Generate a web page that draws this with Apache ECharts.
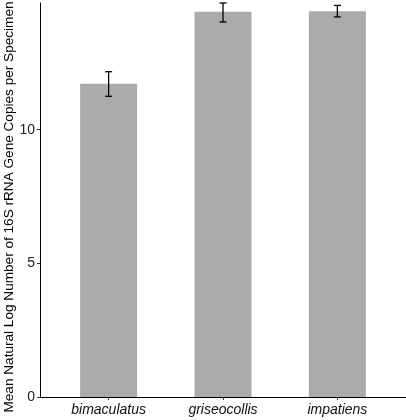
<!DOCTYPE html>
<html><head><meta charset="utf-8">
<script src="https://cdn.jsdelivr.net/npm/echarts@6/dist/echarts.min.js"></script>
<style>html,body{margin:0;padding:0;background:#fff}#c{width:406px;height:420px}</style>
</head><body><div id="c"></div>
<script>
var categories = ['bimaculatus', 'griseocollis', 'impatiens'];
var means = [11.72, 14.41, 14.43];
var errLow = [11.25, 14.03, 14.22];
var errHigh = [12.17, 14.74, 14.65];
var yTicks = [0, 5, 10];

var positions = categories.map(function (c, i) { return i + 1; });
var chart = echarts.init(document.getElementById('c'), null, {renderer: 'canvas'});
chart.setOption({
  animation: false,
  grid: {left: 40, right: 0, top: 3, bottom: 23, containLabel: false, outerBoundsMode: 'none'},
  xAxis: {
    type: 'value', min: 0.4, max: 3.6,
    splitLine: {show: false},
    axisLine: {show: true, lineStyle: {color: '#000', width: 1}},
    axisTick: {show: true, customValues: positions, length: 3, lineStyle: {color: '#333'}},
    axisLabel: {
      customValues: positions, margin: 6,
      formatter: function (v) { return categories[Math.round(v) - 1] || ''; },
      fontFamily: 'Liberation Sans, Arial, sans-serif', fontStyle: 'italic', fontSize: 14, color: '#111'
    }
  },
  yAxis: {
    type: 'value', min: 0, max: 14.74,
    name: 'Mean Natural Log Number of 16S rRNA Gene Copies per Specimen',
    nameLocation: 'middle', nameGap: 24, nameMoveOverlap: false,
    nameTextStyle: {fontFamily: 'Liberation Sans, Arial, sans-serif', fontSize: 13.6, color: '#000', padding: [0, 14, 0, 0]},
    splitLine: {show: false},
    axisLine: {show: true, lineStyle: {color: '#000', width: 1}},
    axisTick: {show: true, customValues: yTicks, length: 3, lineStyle: {color: '#333'}},
    axisLabel: {customValues: yTicks, margin: 5,
      fontFamily: 'Liberation Sans, Arial, sans-serif', fontSize: 14, color: '#222'}
  },
  series: [
    {
      type: 'bar', barWidth: 57,
      itemStyle: {color: '#ababab'},
      data: positions.map(function (p, i) { return [p, means[i]]; })
    },
    {
      type: 'custom',
      data: positions.map(function (p, i) { return [p, errLow[i], errHigh[i]]; }),
      renderItem: function (params, api) {
        var lo = api.coord([api.value(0), api.value(1)]);
        var hi = api.coord([api.value(0), api.value(2)]);
        var hw = 3.5;
        var st = {stroke: '#000', lineWidth: 1.3};
        return {type: 'group', children: [
          {type: 'line', shape: {x1: lo[0], y1: lo[1], x2: hi[0], y2: hi[1]}, style: st},
          {type: 'line', shape: {x1: lo[0] - hw, y1: lo[1], x2: lo[0] + hw, y2: lo[1]}, style: st},
          {type: 'line', shape: {x1: hi[0] - hw, y1: hi[1], x2: hi[0] + hw, y2: hi[1]}, style: st}
        ]};
      },
      z: 10
    }
  ]
});
</script></body></html>
